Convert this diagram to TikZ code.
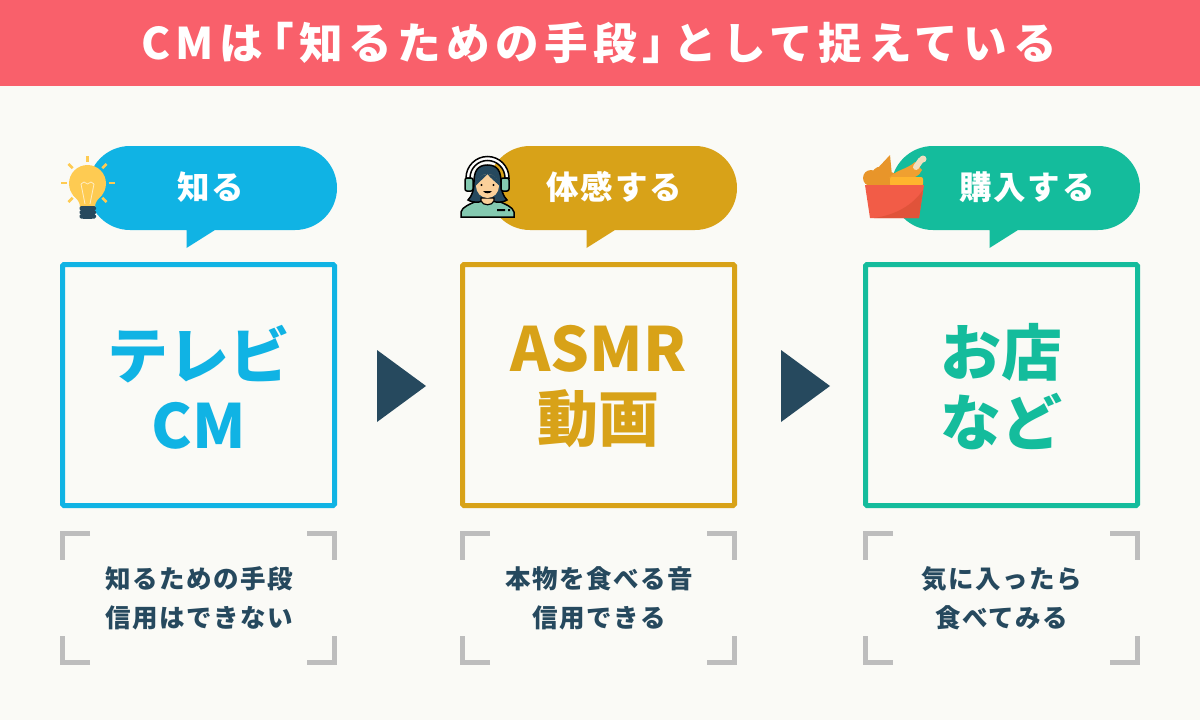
\documentclass[tikz,border=0pt]{standalone}
\usepackage{fontspec}
\setmainfont{Noto Sans CJK JP}
\newfontfamily\headfont[LetterSpace=6]{Noto Sans CJK JP}
\newfontfamily\titlefont[LetterSpace=12.5]{Noto Sans CJK JP}
\usetikzlibrary{positioning,calc,arrows.meta}

\definecolor{bgcol}{HTML}{FAFAF6}
\definecolor{redcol}{HTML}{F9606B}
\definecolor{bluecol}{HTML}{10B3E4}
\definecolor{goldcol}{HTML}{D8A218}
\definecolor{greencol}{HTML}{14BC9C}
\definecolor{navycol}{HTML}{26495E}
\definecolor{graycol}{HTML}{BDBDBD}
\definecolor{bulbcol}{HTML}{FECB52}
\definecolor{skincol}{HTML}{FBD09A}
\definecolor{mintcol}{HTML}{84C9B0}
\definecolor{boxred}{HTML}{F25C47}
\definecolor{boxdark}{HTML}{E0533A}
\definecolor{friedcol}{HTML}{E8952A}
\definecolor{drumcol}{HTML}{F0A030}
\definecolor{crustcol}{HTML}{FFB52E}
\definecolor{bonecol}{HTML}{EFDFC0}

\tikzset{
  x=1pt, y=1pt,
  bigbox/.style={draw=#1, line width=5pt, rounded corners=1.5pt, minimum width=272pt, minimum height=241pt, inner sep=0pt},
  bigtext/.style={text=#1, font=\bfseries\fontsize{61}{70}\selectfont, align=center, inner sep=0pt},
  pilltext/.style={text=white, font=\headfont\bfseries\fontsize{32.5}{38}\selectfont, inner sep=0pt},
  notetext/.style={text=navycol, font=\headfont\bfseries\fontsize{25.5}{39}\selectfont, align=center, inner sep=0pt},
  bracket/.style={draw=graycol, line width=5pt},
  outline/.style={draw=black, line width=1.5pt},
}

\begin{document}
\begin{tikzpicture}
\useasboundingbox (0,0) rectangle (1200,-720);
\fill[bgcol] (0,0) rectangle (1200,-720);
\fill[redcol] (0,0) rectangle (1200,-86);
\node[text=white, font=\titlefont\bfseries\fontsize{43.6}{50}\selectfont, inner sep=0pt] (titlehead) at (599,-43) {CMは\kern-13pt「知るための手段」\kern-13ptとして捉えている};

\foreach \stage/\xl/\col/\calltext/\callx/\maintext/\notelines in {
    know/60/bluecol/{知る}/150.5/{テレビ\\CM}/{知るための手段\\信用はできない},
    feel/460/goldcol/{体感する}/154.5/{ASMR\\動画}/{本物を食べる音\\信用できる},
    buy/863/greencol/{購入する}/164/{お店\\など}/{気に入ったら\\食べてみる}}
{
    \fill[\col] ({\xl+70},-146) -- ({\xl+235},-146) arc (90:-90:42) -- ({\xl+155},-230)
      -- ({\xl+126.5},-248) -- ({\xl+126.5},-230) -- ({\xl+70},-230) arc (270:90:42) -- cycle;
    \node[pilltext] (\stage call) at ({\xl+\callx},-187) {\calltext};
    \node[bigbox=\col] (\stage box) at ({\xl+138.5},-385) {};
    \node[bigtext=\col] (\stage main) at ({\xl+138.5},-387) {\maintext};
    \draw[bracket] ({\xl+30},-533) -- ({\xl+2.5},-533) -- ({\xl+2.5},-560);
    \draw[bracket] ({\xl+247},-533) -- ({\xl+274.5},-533) -- ({\xl+274.5},-560);
    \draw[bracket] ({\xl+30},-662) -- ({\xl+2.5},-662) -- ({\xl+2.5},-636);
    \draw[bracket] ({\xl+247},-662) -- ({\xl+274.5},-662) -- ({\xl+274.5},-636);
    \node[notetext] (\stage note) at ({\xl+139},-598) {\notelines};
}

% arrows between the boxes
\fill[navycol] (377,-350) -- (426,-386) -- (377,-422) -- cycle;
\fill[navycol] (781,-350) -- (830,-386) -- (781,-422) -- cycle;

% light bulb
\foreach \a in {0,45,90,135,180,-45,-135}
  \draw[bulbcol, line width=2.5pt] ($(87.5,-183)+(\a:21)$) -- ($(87.5,-183)+(\a:27)$);
\fill[bulbcol] (87.5,-183.5) circle (18.5);
\fill[bulbcol] (73,-195) .. controls (77,-199) and (80,-202) .. (80,-207) -- (95,-207) .. controls (95,-202) and (98,-199) .. (102,-195) -- cycle;
\draw[white!65!bulbcol, line width=0.8pt] (81,-184) -- (85,-204) (94,-184) -- (90,-204) (81,-184) -- (84,-182) -- (87.5,-184) -- (91,-182) -- (94,-184);
\foreach \y in {-206,-210,-214}
  \fill[navycol, rounded corners=1.5pt] (79.5,\y) rectangle (96,{\y-4.5});
\fill[navycol] (83,-217) rectangle (92,-219);

% listener with headset
\filldraw[fill=mintcol, outline] (461,-217) -- (461,-212) .. controls (462,-207) and (470,-204) .. (477,-201) -- (498,-201) .. controls (505,-204) and (513,-207) .. (514,-212) -- (514,-217) -- cycle;
\fill[black] (497,-209) rectangle (505,-211) (508,-209) rectangle (510,-211);
\filldraw[fill=navycol, outline] (487.5,-165) .. controls (477,-165) and (474,-172) .. (474,-182) .. controls (474,-190) and (472,-196) .. (468,-200) .. controls (475,-204) and (482,-202) .. (487.5,-199) .. controls (493,-202) and (500,-204) .. (507,-200) .. controls (503,-196) and (501,-190) .. (501,-182) .. controls (501,-172) and (498,-165) .. (487.5,-165) -- cycle;
\filldraw[fill=skincol, draw=black, line width=1.2pt] (481,-198) -- (481,-201) .. controls (483,-206) and (492,-206) .. (494,-201) -- (494,-198) -- cycle;
\fill[skincol] (487.5,-186) ellipse (11.5 and 12);
\fill[navycol] (475.5,-186) .. controls (476,-170) and (499,-170) .. (499.5,-186) .. controls (496,-182) and (490,-178) .. (487.5,-174) .. controls (484,-178) and (479,-182) .. (475.5,-186) -- cycle;
\fill[black] (481.5,-185) circle (1.2) (493.5,-185) circle (1.2);
\fill[black] (483,-191) .. controls (485,-194) and (490,-194) .. (492,-191) -- cycle;
\filldraw[fill=white, outline] (466,-178) arc (180:0:21.5) -- (505,-178) arc (0:180:17.5) -- cycle;
\filldraw[fill=mintcol, outline, rounded corners=2pt] (465,-178) rectangle (473,-191);
\filldraw[fill=mintcol, outline, rounded corners=2pt] (501,-178) rectangle (509,-191);

% bucket of fried chicken
\fill[friedcol] (876,-170) -- (890,-155) -- (893,-186) -- (874,-186) -- cycle;
\fill[friedcol] (871,-178) circle (8) (881,-176) circle (9.5) (890,-179) circle (7);
\fill[drumcol] (889,-178) .. controls (897,-169) and (906,-170) .. (915,-162) -- (922,-170) .. controls (920,-176) and (912,-179) .. (904,-180) -- cycle;
\draw[bonecol, line width=6pt, line cap=round] (916,-167) -- (921,-160);
\fill[bonecol] (923,-159) circle (3.5);
\fill[crustcol, rounded corners=2pt] (890,-177) rectangle (923,-186);
\fill[boxred] (865,-185) -- (924,-185) -- (919,-218) -- (870,-218) -- cycle;
\fill[boxdark] (923,-190) -- (919,-218) -- (874,-218) .. controls (895,-215) and (912,-206) .. (923,-190) -- cycle;
\end{tikzpicture}
\end{document}
